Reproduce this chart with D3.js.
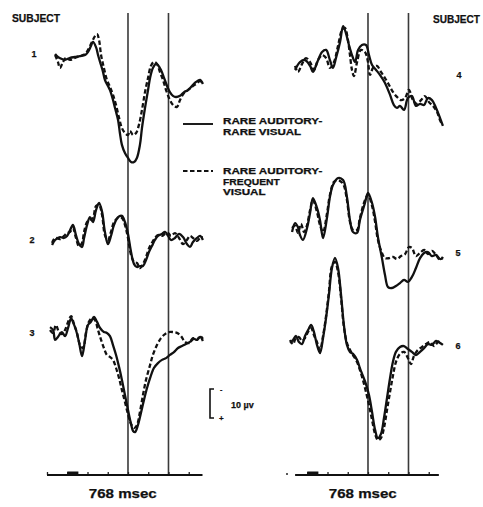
<!DOCTYPE html>
<html>
<head>
<meta charset="utf-8">
<script src="https://cdn.jsdelivr.net/npm/d3@7/dist/d3.min.js"></script>
<style>
  html, body { margin: 0; padding: 0; background: #fff; }
  svg { display: block; }
  text { font-family: "Liberation Sans", Arial, sans-serif; font-weight: bold; fill: #111; stroke: #111; stroke-width: 0.25; }
</style>
</head>
<body>
<script>
// Averaged evoked potentials, [time in msec, amplitude in µV] (positive plotted downward)
const s1Solid = [[40,-1.0],[54,0],[74,0.7],[89,1.0],[114,0.3],[138,0],[163,-0.3],[188,-0.7],[202,-1.7],[217,-3.8],[227,-5.2],[242,-3.4],[252,-0.7],[262,1.7],[277,5.2],[286,7.9],[301,10.0],[311,11.4],[326,14.8],[336,17.6],[351,21.7],[360,26.2],[370,30.3],[385,33.1],[400,34.8],[415,36.2],[430,36.2],[444,34.8],[459,30.3],[469,24.5],[484,17.6],[499,11.4],[509,7.2],[523,3.8],[538,2.4],[548,2.8],[563,4.5],[578,7.2],[593,10.0],[607,12.1],[622,13.4],[637,13.8],[657,13.4],[677,12.1],[696,11.4],[716,10.0],[736,8.6],[756,7.9],[770,9.3]];
const s1Dashed = [[40,-0.7],[54,1.7],[64,3.8],[79,1.7],[94,0.3],[114,1.0],[138,0.3],[163,-0.3],[188,-1.0],[202,-2.4],[222,-5.2],[237,-7.2],[247,-7.9],[257,-5.9],[267,-0.7],[281,3.8],[296,7.9],[311,10.3],[326,13.1],[341,16.6],[356,21.0],[370,24.5],[385,26.2],[400,26.9],[410,25.5],[425,26.9],[440,26.2],[454,23.4],[469,18.3],[484,12.1],[499,7.2],[513,3.1],[528,1.7],[543,2.4],[558,5.2],[573,7.9],[588,11.4],[607,14.8],[627,16.9],[642,17.2],[657,14.8],[677,12.4],[696,11.4],[716,10.3],[736,9.3],[756,8.3],[770,9.0]];

const s2Solid = [[25,1.7],[40,0],[64,-1.0],[84,-0.7],[99,-1.4],[114,-3.4],[128,-5.2],[143,-1.7],[158,1.4],[173,2.4],[183,-0.7],[198,-5.2],[212,-7.9],[227,-6.2],[242,-10.3],[257,-12.8],[272,-9.7],[286,-2.8],[301,1.4],[316,-1.4],[331,-5.2],[351,-7.9],[370,-8.3],[385,-6.2],[400,-2.1],[415,4.1],[430,8.3],[444,9.3],[459,9.0],[474,9.0],[489,6.9],[504,4.1],[518,2.1],[533,0],[548,-1.4],[568,-2.1],[583,-2.8],[598,-1.4],[612,0],[632,-0.7],[652,-2.1],[672,-1.0],[691,1.4],[706,2.4],[721,0.7],[741,-0.7],[756,-1.4],[770,0]];
const s2Dashed = [[25,1.0],[40,-0.7],[64,-0.3],[84,-1.4],[99,-2.4],[114,-2.8],[128,-4.1],[143,-0.7],[158,2.1],[173,1.0],[183,-2.8],[198,-6.2],[212,-6.9],[227,-7.6],[242,-11.7],[257,-12.1],[272,-8.6],[286,-1.7],[301,0],[316,-2.8],[331,-6.2],[351,-7.6],[370,-7.6],[385,-5.2],[400,-0.7],[415,5.2],[430,7.6],[444,7.9],[459,9.7],[474,8.3],[489,5.9],[504,2.8],[518,1.0],[533,-0.7],[548,-1.7],[568,-1.4],[583,-2.1],[598,-2.4],[612,-1.4],[632,-2.4],[652,-0.7],[672,1.4],[691,0],[706,-1.4],[721,-0.7],[741,0.3],[756,-0.7],[770,-1.0]];

const s3Solid = [[15,-1.0],[30,0],[40,3.4],[54,2.4],[74,0.7],[89,2.1],[104,-0.7],[119,-4.1],[128,-2.8],[143,0],[158,4.1],[173,9.0],[188,3.4],[202,-1.7],[217,-2.8],[232,-4.5],[247,-2.8],[262,-0.7],[281,0.7],[296,1.0],[311,2.1],[326,5.2],[341,8.6],[356,12.8],[370,17.2],[385,22.4],[400,27.6],[415,32.4],[425,34.8],[435,35.2],[449,32.8],[464,28.6],[479,24.1],[494,20.0],[509,16.6],[528,13.1],[548,11.4],[568,10.3],[588,9.7],[607,8.6],[627,7.6],[647,6.2],[667,5.5],[686,4.8],[706,4.1],[726,3.1],[741,3.4],[756,2.4],[770,3.8]];
const s3Dashed = [[15,0],[30,1.0],[44,-1.7],[59,0.7],[74,1.4],[89,0],[104,-2.8],[119,-4.8],[133,-2.1],[148,1.0],[163,5.2],[178,6.2],[193,0.7],[207,-2.8],[222,-4.1],[237,-3.4],[252,0],[267,3.4],[281,6.2],[296,8.6],[311,9.3],[326,10.3],[341,13.1],[356,16.6],[370,20.7],[385,24.8],[400,29.0],[415,32.4],[430,33.8],[444,32.8],[459,28.3],[474,22.4],[489,17.2],[509,12.1],[523,8.6],[543,5.2],[563,2.8],[583,1.4],[602,0.7],[622,0.7],[642,1.0],[662,2.1],[681,4.1],[701,4.5],[721,2.8],[741,3.4],[756,2.1],[770,3.1]];

const s4Solid = [[40,1.7],[64,-1.0],[89,-1.7],[114,0.3],[128,2.4],[148,-0.7],[173,-4.5],[193,-5.2],[212,-1.7],[227,1.0],[242,-2.4],[262,-7.9],[277,-13.4],[291,-11.0],[306,-6.9],[321,-3.4],[336,-1.0],[351,-5.2],[370,-6.9],[390,-6.9],[405,-3.4],[420,0],[440,1.7],[459,3.4],[484,6.2],[509,10.3],[528,13.8],[543,14.8],[558,14.1],[578,15.5],[597,11.4],[617,10.7],[637,14.1],[657,13.4],[677,13.8],[696,11.4],[716,12.1],[736,14.8],[756,18.3],[770,21.0]];
const s4Dashed = [[40,0.3],[54,2.4],[74,-0.3],[94,-2.4],[114,-1.0],[133,1.7],[153,-1.7],[173,-3.4],[193,-2.4],[212,1.0],[232,-1.0],[252,-6.6],[272,-12.1],[286,-12.8],[301,-8.6],[311,-3.4],[321,1.7],[331,3.8],[346,-1.0],[365,-5.2],[385,-4.5],[400,-1.0],[410,3.4],[425,1.0],[444,0.3],[464,2.4],[484,4.5],[504,6.9],[523,9.3],[543,11.0],[563,12.1],[583,11.4],[602,8.6],[622,12.1],[642,13.4],[662,12.1],[681,10.7],[701,12.8],[721,14.1],[741,16.2],[760,19.7],[770,20.3]];

const s5Solid = [[25,0.7],[40,-2.4],[54,-1.0],[64,1.7],[79,3.4],[99,-0.7],[114,-5.9],[128,-11.0],[148,-7.6],[163,-3.4],[178,2.8],[198,-4.5],[212,-11.4],[227,-15.5],[252,-17.9],[277,-17.2],[296,-11.4],[311,-3.4],[326,0.7],[346,1.0],[360,-3.4],[385,-9.3],[400,-12.8],[420,-9.3],[435,-4.5],[449,2.4],[469,9.7],[484,15.5],[499,19.7],[518,20.0],[538,19.3],[558,18.3],[578,17.2],[597,17.9],[617,16.2],[637,13.1],[657,9.7],[677,7.9],[696,7.6],[716,9.0],[736,8.6],[756,10.0],[770,9.7]];
const s5Dashed = [[25,-0.7],[40,-1.4],[54,1.0],[69,-2.1],[84,0.7],[99,-1.7],[114,-6.9],[128,-10.3],[148,-6.2],[163,-1.7],[178,0.7],[198,-5.9],[212,-12.1],[232,-16.6],[252,-17.2],[277,-15.9],[296,-10.3],[311,-2.8],[326,0],[346,0],[360,-4.1],[385,-10.3],[400,-12.1],[420,-8.3],[435,-2.8],[449,3.4],[469,7.9],[484,9.7],[504,9.7],[523,9.3],[543,10.0],[563,9.0],[583,8.3],[602,5.9],[617,6.2],[637,9.0],[657,7.9],[677,6.9],[696,8.3],[716,7.2],[736,8.6],[756,10.3],[770,9.3]];

const s6Solid = [[15,1.0],[30,0],[44,-1.4],[59,0.7],[74,1.4],[89,-1.4],[104,-3.4],[119,-5.2],[133,-2.8],[148,1.7],[163,4.5],[178,-0.7],[193,-7.6],[207,-15.5],[222,-24.8],[237,-28.3],[252,-24.8],[267,-15.5],[281,-5.2],[296,1.7],[311,4.1],[326,4.8],[346,6.9],[360,9.7],[375,12.4],[390,15.2],[405,19.0],[420,24.8],[435,31.0],[449,33.8],[464,32.4],[479,26.9],[494,20.0],[509,13.1],[523,7.6],[538,4.1],[558,2.4],[578,2.1],[597,3.1],[617,4.1],[637,5.2],[657,4.1],[677,2.8],[696,1.4],[716,1.7],[736,0.3],[756,1.0],[770,1.7]];
const s6Dashed = [[15,0],[30,1.4],[44,-0.7],[59,-1.0],[74,0.3],[89,-0.7],[104,-2.8],[119,-4.1],[133,-1.7],[148,0.7],[163,3.4],[178,-1.4],[193,-8.3],[207,-16.6],[222,-25.5],[237,-26.9],[252,-23.4],[267,-14.5],[281,-4.5],[296,1.0],[311,3.4],[326,5.2],[346,7.6],[360,10.3],[375,13.8],[390,17.9],[405,22.4],[420,27.6],[435,32.4],[449,34.5],[464,33.8],[479,30.3],[494,24.1],[509,17.9],[523,12.4],[538,7.6],[558,4.8],[578,4.1],[597,6.2],[612,8.3],[627,5.5],[647,3.4],[667,2.4],[686,1.4],[706,0.7],[726,2.1],[746,0.7],[765,0.3]];

// Time axis: epoch length, tick marks, marker lines and stimulus bar (msec)
const epochMs = 768;
const tickMs = [0, 100, 200, 300, 400, 500, 600, 700];
const markerMs = [400, 600];
const stimulusMs = [100, 155];
const calibrationUv = 10;

const legendItems = [
  { lines: ["RARE AUDITORY-", "RARE VISUAL"], dash: null },
  { lines: ["RARE AUDITORY-", "FREQUENT", "VISUAL"], dash: "4.5,2.5" }
];

const W = 483, H = 507;
const svg = d3.select("body").append("svg").attr("width", W).attr("height", H);

const leftX = d3.scaleLinear().domain([0, epochMs]).range([47, 202.5]);
const rightX = d3.scaleLinear().domain([0, epochMs]).range([287, 442.5]);
const amp = d3.scaleLinear().domain([0, 10]).range([0, 29]);
const axisY = 475;

const panels = [
  { x: leftX, subjects: [
      { n: "1", solid: s1Solid, dashed: s1Dashed, base: 57, lx: 34, ly: 57 },
      { n: "2", solid: s2Solid, dashed: s2Dashed, base: 240, lx: 32, ly: 243 },
      { n: "3", solid: s3Solid, dashed: s3Dashed, base: 330, lx: 32, ly: 336 }
    ], head: { x: 12, y: 22, len: 48 }, axisFrom: 0, dot: false },
  { x: rightX, subjects: [
      { n: "4", solid: s4Solid, dashed: s4Dashed, base: 65, lx: 459, ly: 78 },
      { n: "5", solid: s5Solid, dashed: s5Dashed, base: 230, lx: 458, ly: 256 },
      { n: "6", solid: s6Solid, dashed: s6Dashed, base: 340, lx: 458, ly: 349 }
    ], head: { x: 433, y: 23, len: 47 }, axisFrom: 40, dot: true }
];

panels.forEach(p => {
  const g = svg.append("g");

  // marker lines at 400 and 600 msec
  g.selectAll("line.marker").data(markerMs).join("line")
    .attr("class", "marker")
    .attr("x1", d => p.x(d)).attr("x2", d => p.x(d))
    .attr("y1", 13).attr("y2", axisY + 1)
    .attr("stroke", "#3a3a3a").attr("stroke-width", 1.6);

  // time base with 100 msec ticks
  const axis = d3.axisTop(p.x).tickValues(tickMs.filter(t => t >= p.axisFrom)).tickSize(3).tickFormat("");
  const ag = g.append("g").attr("transform", `translate(0,${axisY})`).call(axis);
  ag.select(".domain").remove();
  ag.selectAll(".tick line").attr("stroke", "#222").attr("stroke-width", 1.3);
  ag.append("line")
    .attr("x1", p.x(p.axisFrom)).attr("x2", p.x(epochMs - (p.dot ? 18 : 0)))
    .attr("stroke", "#111").attr("stroke-width", 1.9);
  if (p.dot) {
    ag.append("circle").attr("cx", p.x(0)).attr("cy", -1).attr("r", 1).attr("fill", "#222");
  }
  // stimulus bar
  g.append("rect")
    .attr("x", p.x(stimulusMs[0])).attr("width", p.x(stimulusMs[1]) - p.x(stimulusMs[0]))
    .attr("y", axisY - 3.5).attr("height", 3.5).attr("fill", "#111");

  // waveforms
  p.subjects.forEach(s => {
    const line = d3.line()
      .x(d => p.x(d[0]))
      .y(d => s.base + amp(d[1]))
      .curve(d3.curveCatmullRom.alpha(0.5));
    g.append("path").datum(s.dashed).attr("d", line)
      .attr("fill", "none").attr("stroke", "#111").attr("stroke-width", 2.3)
      .attr("stroke-dasharray", "4.5,2.5");
    g.append("path").datum(s.solid).attr("d", line)
      .attr("fill", "none").attr("stroke", "#111").attr("stroke-width", 2.3)
      .attr("stroke-linejoin", "round");
    g.append("text").attr("x", s.lx).attr("y", s.ly)
      .attr("text-anchor", "middle").attr("font-size", 9).text(s.n);
  });

  g.append("text").attr("x", p.head.x).attr("y", p.head.y)
    .attr("font-size", 10.5).attr("textLength", p.head.len)
    .attr("lengthAdjust", "spacingAndGlyphs").text("SUBJECT");

  g.append("text").attr("x", (p.x(0) + p.x(epochMs)) / 2 - 2).attr("y", 498)
    .attr("text-anchor", "middle").attr("font-size", 13)
    .attr("textLength", 68).attr("lengthAdjust", "spacingAndGlyphs")
    .text("768  msec");
});

// legend
const lg = svg.append("g");
const legendTop = [124, 174];
legendItems.forEach((item, i) => {
  const y0 = legendTop[i];
  lg.append("line").attr("x1", 183).attr("x2", 213)
    .attr("y1", y0 - (i === 0 ? 0 : 3)).attr("y2", y0 - (i === 0 ? 0 : 3))
    .attr("stroke", "#111").attr("stroke-width", 1.9)
    .attr("stroke-dasharray", item.dash);
  item.lines.forEach((t, j) => {
    lg.append("text").attr("x", 223).attr("y", y0 + j * 10.5)
      .attr("font-size", 8.5)
      .attr("textLength", t.length * 7.1).attr("lengthAdjust", "spacingAndGlyphs")
      .text(t);
  });
});

// calibration bracket (10 µV, negative up)
const cal = svg.append("g").attr("transform", "translate(210,389)");
const calH = amp(calibrationUv);
cal.append("path")
  .attr("d", `M4,0 H0 V${calH} H4`)
  .attr("fill", "none").attr("stroke", "#111").attr("stroke-width", 1.6);
cal.append("text").attr("x", 10).attr("y", 3).attr("font-size", 7).text("-");
cal.append("text").attr("x", 9).attr("y", calH + 3).attr("font-size", 8).text("+");
cal.append("text").attr("x", 21).attr("y", calH / 2 + 4)
  .attr("font-size", 9).text("10 µv");
</script>
</body>
</html>
